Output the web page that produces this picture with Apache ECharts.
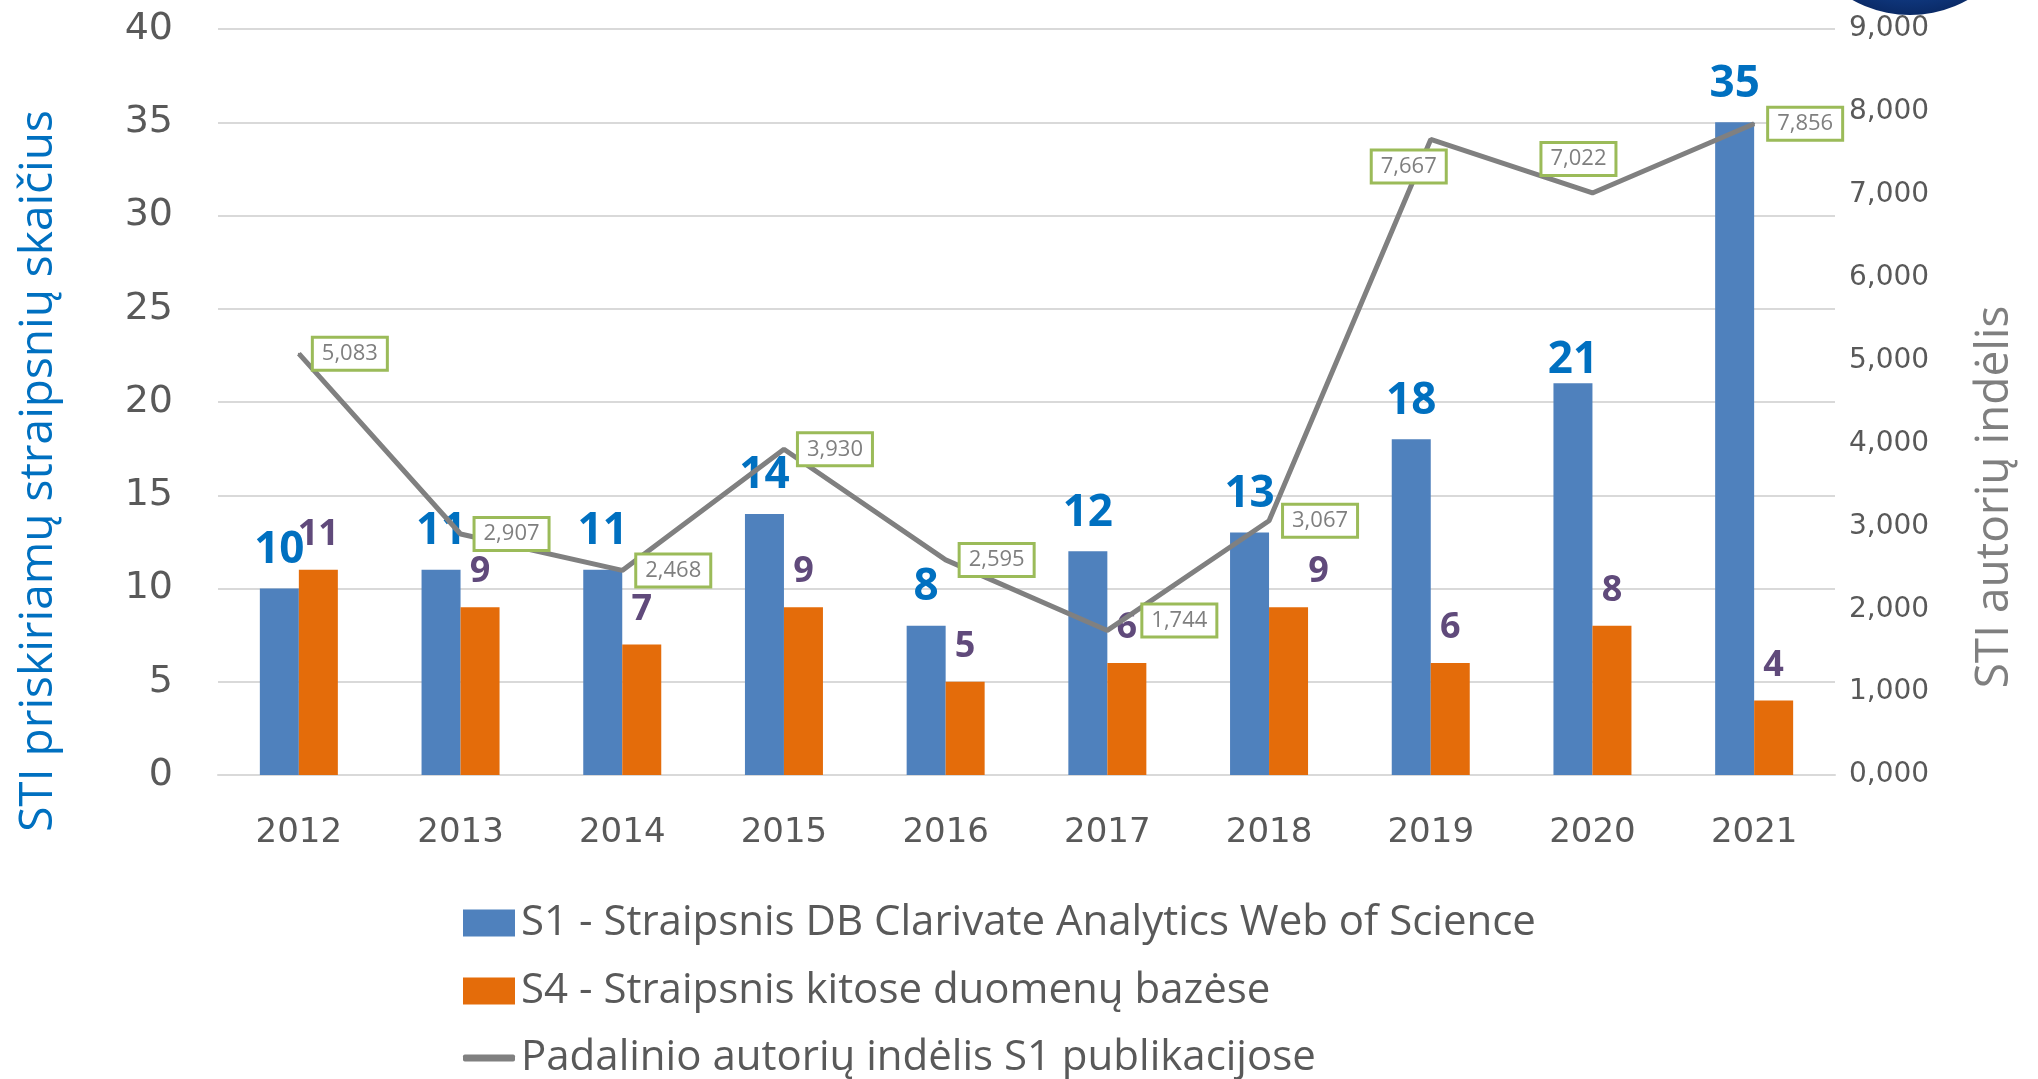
<!DOCTYPE html>
<html>
<head>
<meta charset="utf-8">
<script src="https://cdn.jsdelivr.net/npm/echarts@6/dist/echarts.min.js"></script>
<style>
html, body { margin: 0; padding: 0; background: #fff; }
#chart { width: 2038px; height: 1079px; }
</style>
</head>
<body>
<div id="chart"></div>
<script>
var years = ['2012', '2013', '2014', '2015', '2016', '2017', '2018', '2019', '2020', '2021'];
var s1Values = [10, 11, 11, 14, 8, 12, 13, 18, 21, 35];
var s4Values = [11, 9, 7, 9, 5, 6, 9, 6, 8, 4];
var contribValues = [5083, 2907, 2468, 3930, 2595, 1744, 3067, 7667, 7022, 7856];

var nameS1 = 'S1 - Straipsnis DB Clarivate Analytics Web of Science';
var nameS4 = 'S4 - Straipsnis kitose duomenų bazėse';
var nameLine = 'Padalinio autorių indėlis S1 publikacijose';
var leftTitle = 'STI priskiriamų straipsnių skaičius';
var rightTitle = 'STI autorių indėlis';

var chart = echarts.init(document.getElementById('chart'));

var calibri = "'Open Sans', 'Noto Sans', sans-serif";
var tickFont = "'DejaVu Sans', sans-serif";

// label box placement around the line points (px)
function lineLabelOffset(i) {
    if (i === 5) return [72, -10];
    if (i === 7) return [-22, 27];
    if (i === 8) return [-14, -34];
    return [51, 0];
}

function fmtThousand(v) {
    var k = Math.floor(v / 1000), r = String(v % 1000);
    while (r.length < 3) r = '0' + r;
    return k + ',' + r;
}

var lineData = contribValues.map(function (v, i) {
    return { value: v, label: { offset: lineLabelOffset(i) } };
});

var s1Data = s1Values.map(function (v, i) {
    if (i === 8) return { value: v, label: { offset: [0, 15] } };
    return v;
});

var s4Data = s4Values.map(function (v, i) {
    if (i === 6) return { value: v, label: { offset: [30, 0] } };
    return v;
});

function oneLegend(name, top, icon, h) {
    return {
        data: [{ name: name, icon: icon }],
        orient: 'vertical',
        left: 463,
        top: top,
        padding: 0,
        itemWidth: 52,
        itemHeight: h,
        selectedMode: false,
        textStyle: { fontFamily: calibri, fontSize: 42, color: '#595959', padding: [0, 0, 0, 1] }
    };
}

var option = {
    backgroundColor: '#ffffff',
    animation: false,
    grid: { left: 218, right: 203, top: 29, bottom: 304, containLabel: false },
    legend: [
        oneLegend(nameS1, 902, 'rect', 27),
        oneLegend(nameS4, 970, 'rect', 27),
        oneLegend(nameLine, 1037, 'roundRect', 7)
    ],
    xAxis: {
        type: 'category',
        data: years,
        axisLine: { lineStyle: { color: '#d9d9d9', width: 2 } },
        axisTick: { show: false },
        axisLabel: { fontFamily: tickFont, fontSize: 34, color: '#595959', margin: 41 }
    },
    yAxis: [{
        type: 'value',
        min: 0, max: 40, interval: 5,
        axisLine: { show: false },
        axisTick: { show: false },
        splitLine: { lineStyle: { color: '#d9d9d9', width: 2 } },
        axisLabel: { fontFamily: tickFont, fontSize: 38, color: '#595959', margin: 45 }
    }, {
        type: 'value',
        min: 0, max: 9000, interval: 1000,
        axisLine: { show: false },
        axisTick: { show: false },
        splitLine: { show: false },
        axisLabel: { fontFamily: tickFont, fontSize: 28, color: '#595959', margin: 14, formatter: fmtThousand }
    }],
    series: [{
        name: nameS1,
        type: 'bar',
        data: s1Data,
        barWidth: 39,
        barGap: '0%',
        itemStyle: { color: '#4f81bd' },
        label: {
            show: true, position: 'top', distance: 16,
            fontFamily: calibri, fontWeight: 'bold', fontSize: 44, color: '#0070c0'
        }
    }, {
        name: nameS4,
        type: 'bar',
        data: s4Data,
        barWidth: 39,
        barGap: '0%',
        itemStyle: { color: '#e46c0a' },
        label: {
            show: true, position: 'top', distance: 17,
            fontFamily: calibri, fontWeight: 'bold', fontSize: 36, color: '#604a7b'
        }
    }, {
        name: nameLine,
        type: 'line',
        yAxisIndex: 1,
        data: lineData,
        symbol: 'circle',
        symbolSize: 2,
        itemStyle: { color: '#808080' },
        lineStyle: { color: '#808080', width: 5 },
        z: 5,
        label: {
            show: true, position: 'inside',
            formatter: function (p) { return p.value.toLocaleString('en-US'); },
            fontFamily: calibri, fontSize: 22, color: '#7f7f7f',
            backgroundColor: '#ffffff', borderColor: '#9bbb59', borderWidth: 3,
            padding: [5, 8, 3, 8]
        }
    }],
    graphic: [{
        type: 'circle',
        shape: { cx: 1910, cy: -103, r: 118 },
        style: {
            fill: new echarts.graphic.RadialGradient(0.5, 0.4, 0.6, [
                { offset: 0, color: '#2a63b8' },
                { offset: 0.8, color: '#123f8c' },
                { offset: 1, color: '#0a2a66' }
            ])
        }
    }, {
        type: 'text',
        x: 39, y: 471,
        rotation: Math.PI / 2,
        style: {
            text: leftTitle, fontFamily: calibri, fontSize: 46, fill: '#0070c0',
            textAlign: 'center', textVerticalAlign: 'middle'
        }
    }, {
        type: 'text',
        x: 1995, y: 497,
        rotation: Math.PI / 2,
        style: {
            text: rightTitle, fontFamily: calibri, fontSize: 46, fill: '#7f7f7f',
            textAlign: 'center', textVerticalAlign: 'middle'
        }
    }]
};

chart.setOption(option);
</script>
</body>
</html>
